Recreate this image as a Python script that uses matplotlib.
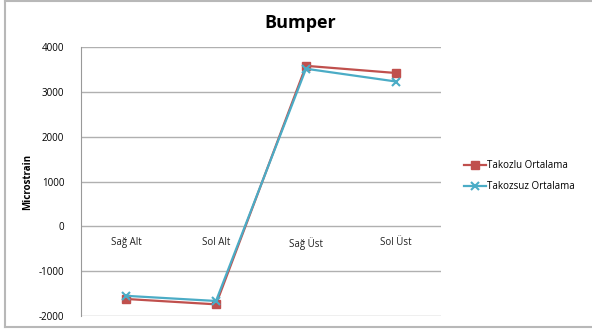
import matplotlib.pyplot as plt
from matplotlib.lines import Line2D

plt.rcParams.update({"font.family": "sans-serif", "font.sans-serif": ["Open Sans", "DejaVu Sans"], "font.size": 7})

categories = ["Sağ Alt", "Sol Alt", "Sağ Üst", "Sol Üst"]
takozlu = [-1620, -1740, 3580, 3420]
takozsuz = [-1550, -1665, 3515, 3230]
yticks = [-2000, -1000, 0, 1000, 2000, 3000, 4000]

fig = plt.figure(figsize=(5.92, 3.31), dpi=100)
ax = fig.add_axes([81/592, 1-316/331, 360/592, 269/331])

x = range(len(categories))
ax.plot(x, takozlu, color="#c0504d", lw=1.6, marker="s", ms=6, mec="#c0504d", label="Takozlu Ortalama", zorder=3)
ax.plot(x, takozsuz, color="#4bacc6", lw=1.6, marker="x", ms=6, mew=1.5, label="Takozsuz Ortalama", zorder=4)

ax.set_xlim(-0.5, len(categories) - 0.5)
ax.set_ylim(-2000, 4000)
ax.set_yticks(yticks)
ax.set_yticklabels([str(v) for v in yticks], fontsize=7)
ax.set_xticks([])
for i, c in enumerate(categories):
    ax.text(i, -230, c, ha="center", va="top", fontsize=7, color="#222222")

for v in yticks:
    ax.axhline(v, color="#b0b0b0", lw=1.0, zorder=1)
for s in ["top", "right", "bottom"]:
    ax.spines[s].set_visible(False)
ax.spines["left"].set_color("#999999")
ax.tick_params(axis="y", length=0, pad=12)
ax.set_ylabel("Microstrain", fontsize=7, fontweight="bold", labelpad=4)

fig.text(300/592, 1-23/331, "Bumper", ha="center", va="center", fontsize=13, fontweight="bold")
ax.legend(loc="center left", bbox_to_anchor=(1.04, 0.52), frameon=False, fontsize=7, handlelength=2.2, handletextpad=0.1, labelspacing=1.0)

# chart frame: top, left and bottom edges
ex, et, eb = 4.5/592, 1-1/331, 1-327/331
for xs, ys in [([ex, 1], [et, et]), ([ex, ex], [eb, et]), ([ex, 1], [eb, eb])]:
    fig.add_artist(Line2D(xs, ys, transform=fig.transFigure, color="#b8b8b8", lw=1.5))

fig.savefig("out.png", dpi=100)
